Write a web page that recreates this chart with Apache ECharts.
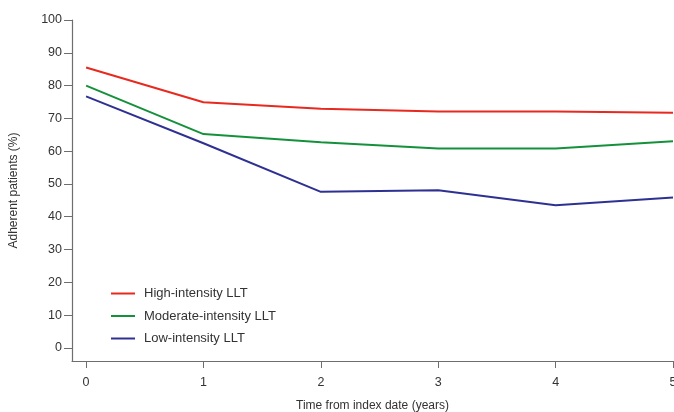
<!DOCTYPE html>
<html>
<head>
<meta charset="utf-8">
<script src="https://cdn.jsdelivr.net/npm/echarts@6/dist/echarts.min.js"></script>
<style>
  html, body { margin: 0; padding: 0; background: #fff; }
  #chart { width: 674px; height: 412px; }
</style>
</head>
<body>
<div id="chart"></div>
<script>
  const years = [0, 1, 2, 3, 4, 5]
  const highIntensity = [85.5, 74.9, 72.9, 72.1, 72.1, 71.7]
  const moderateIntensity = [80.0, 65.2, 62.7, 60.8, 60.8, 63.0]
  const lowIntensity = [76.7, 62.4, 47.6, 48.1, 43.5, 45.9]
  const yTicks = [0, 10, 20, 30, 40, 50, 60, 70, 80, 90, 100]

  const pairs = vals => years.map((x, i) => [x, vals[i]])

  const chart = echarts.init(document.getElementById('chart'))
  const axisColor = '#6e6e6e'
  const textColor = '#333'
  const font = 'Liberation Sans, Arial, sans-serif'

  chart.setOption({
    animation: false,
    textStyle: { fontFamily: font },
    grid: { left: 72, right: 1, top: 20, bottom: 51, outerBoundsMode: 'none', containLabel: false },
    legend: {
      orient: 'vertical',
      left: 106,
      top: 282,
      icon: 'rect',
      itemWidth: 24,
      itemHeight: 2,
      itemGap: 9.5,
      textStyle: { color: textColor, fontSize: 13, fontFamily: font, padding: [0, 0, 0, 4] },
      data: ['High-intensity LLT', 'Moderate-intensity LLT', 'Low-intensity LLT']
    },
    xAxis: {
      type: 'value',
      min: -0.12,
      max: 5,
      name: 'Time from index date (years)',
      nameLocation: 'middle',
      nameGap: 39,
      nameTextStyle: { color: textColor, fontSize: 12, fontFamily: font },
      splitLine: { show: false },
      axisLine: { onZero: false, lineStyle: { color: axisColor, width: 1.2 } },
      axisTick: { show: true, inside: false, length: 7, customValues: years, lineStyle: { color: axisColor } },
      axisLabel: { customValues: years, color: textColor, fontSize: 12.5, margin: 15, fontFamily: font }
    },
    yAxis: {
      type: 'value',
      min: -4,
      max: 100,
      name: 'Adherent patients (%)',
      nameLocation: 'middle',
      nameGap: 52,
      nameTextStyle: { color: textColor, fontSize: 12, fontFamily: font },
      splitLine: { show: false },
      axisLine: { show: true, onZero: false, lineStyle: { color: axisColor, width: 1.2 } },
      axisTick: { show: true, length: 8, customValues: yTicks, lineStyle: { color: axisColor } },
      axisLabel: { customValues: yTicks, color: textColor, fontSize: 12.5, margin: 10, fontFamily: font }
    },
    series: [
      { name: 'High-intensity LLT', type: 'line', data: pairs(highIntensity), symbol: 'none',
        color: '#e8291f', lineStyle: { width: 2 } },
      { name: 'Moderate-intensity LLT', type: 'line', data: pairs(moderateIntensity), symbol: 'none',
        color: '#15913c', lineStyle: { width: 2 } },
      { name: 'Low-intensity LLT', type: 'line', data: pairs(lowIntensity), symbol: 'none',
        color: '#2e3192', lineStyle: { width: 2 } }
    ]
  })
</script>
</body>
</html>
